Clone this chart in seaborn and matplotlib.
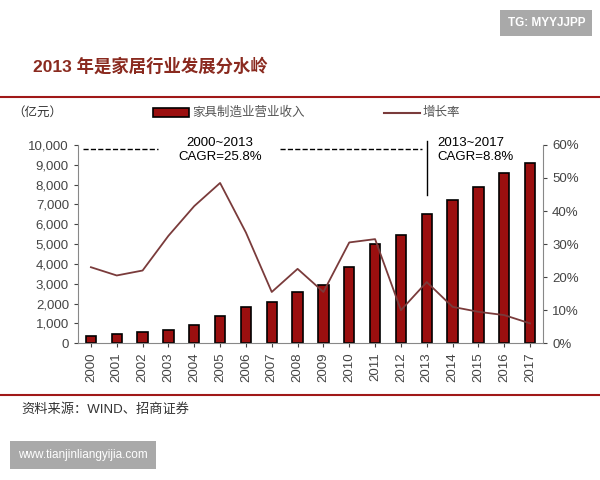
import matplotlib
matplotlib.use("Agg")
import matplotlib.pyplot as plt
import seaborn as sns
import pandas as pd
from matplotlib.ticker import FuncFormatter, PercentFormatter
from matplotlib.patches import Rectangle
from matplotlib.lines import Line2D

plt.rcParams["font.family"] = ["Liberation Sans", "Noto Sans CJK SC", "DejaVu Sans"]

years = [str(y) for y in range(2000, 2018)]
revenue = [380, 450, 550, 680, 920, 1380, 1820, 2100, 2580, 2920, 3820, 5020, 5460, 6500, 7230, 7900, 8600, 9100]
growth = [23, 20.5, 22, 32.5, 41.5, 48.5, 33.5, 15.5, 22.5, 15.5, 30.5, 31.5, 10, 18.5, 11, 9.5, 8.5, 6]
df = pd.DataFrame({"year": years, "revenue": revenue, "growth": growth})

fig = plt.figure(figsize=(6, 4.8), dpi=100)
ax = fig.add_axes([0.13, 0.285, 0.775, 0.413])
sns.barplot(data=df, x="year", y="revenue", color="#9b0f0f", edgecolor="black",
            linewidth=1.2, width=0.4, saturation=1, ax=ax)
ax.set_ylim(0, 10000)
ax.set_yticks(range(0, 10001, 1000))
ax.yaxis.set_major_formatter(FuncFormatter(lambda v, p: f"{int(v):,}"))
ax.set_xlabel(""); ax.set_ylabel("")
ax.tick_params(axis="x", rotation=90, labelsize=9.5, colors="#444", length=3)
ax.tick_params(axis="y", labelsize=9.5, colors="#444", length=3)
for s in ["top", "right"]:
    ax.spines[s].set_visible(False)
for s in ["left", "bottom"]:
    ax.spines[s].set_color("#888")

ax2 = ax.twinx()
sns.lineplot(x=list(range(len(years))), y=growth, color="#7a3b3b", linewidth=1.3, ax=ax2)
ax2.set_ylim(0, 60)
ax2.yaxis.set_major_formatter(PercentFormatter(decimals=0))
ax2.tick_params(axis="y", labelsize=9.5, colors="#444", length=3)
for s in ["top", "left", "bottom"]:
    ax2.spines[s].set_visible(False)
ax2.spines["right"].set_color("#888")
ax.set_xlim(-0.5, len(years) - 0.5)

# annotations
ax.plot([-0.3, 2.6], [9800, 9800], ls="--", color="black", lw=1, clip_on=False)
ax.plot([7.3, 12.8], [9800, 9800], ls="--", color="black", lw=1, clip_on=False)
ax.plot([13, 13], [7500, 10200], color="black", lw=1, clip_on=False)
ax.text(5.0, 9750, "2000~2013\nCAGR=25.8%", fontsize=9.5, va="center", ha="center", linespacing=1.2)
ax.text(13.4, 9750, "2013~2017\nCAGR=8.8%", fontsize=9.5, va="center", ha="left", linespacing=1.2)

# header / footer
fig.text(0.055, 0.85, "2013 年是家居行业发展分水岭", fontsize=12.5, fontweight="bold", color="#8a2a1f")
fig.add_artist(Line2D([0, 1], [0.797, 0.797], color="#a01818", lw=1.5))
fig.text(0.02, 0.765, "（亿元）", fontsize=9, color="#333", va="center")
fig.add_artist(Rectangle((0.255, 0.757), 0.06, 0.018, facecolor="#9b0f0f", edgecolor="black", lw=1.2))
fig.text(0.32, 0.765, "家具制造业营业收入", fontsize=9, color="#555", va="center")
fig.add_artist(Line2D([0.64, 0.70], [0.765, 0.765], color="#7a3b3b", lw=1.5))
fig.text(0.705, 0.765, "增长率", fontsize=9, color="#555", va="center")
fig.add_artist(Line2D([0, 1], [0.177, 0.177], color="#a01818", lw=1.5))
fig.text(0.035, 0.147, "资料来源：WIND、招商证券", fontsize=9.5, color="#333", va="center")
fig.text(0.975, 0.952, "TG: MYYJJPP", fontsize=8.5, color="white", ha="right", va="center", fontweight="bold",
         bbox=dict(boxstyle="square,pad=0.6", facecolor="#a9a9a9", edgecolor="none"))
fig.text(0.03, 0.052, "www.tianjinliangyijia.com", fontsize=8.5, color="white", ha="left", va="center",
         bbox=dict(boxstyle="square,pad=0.7", facecolor="#a9a9a9", edgecolor="none"))
fig.savefig("out.png", dpi=100)
